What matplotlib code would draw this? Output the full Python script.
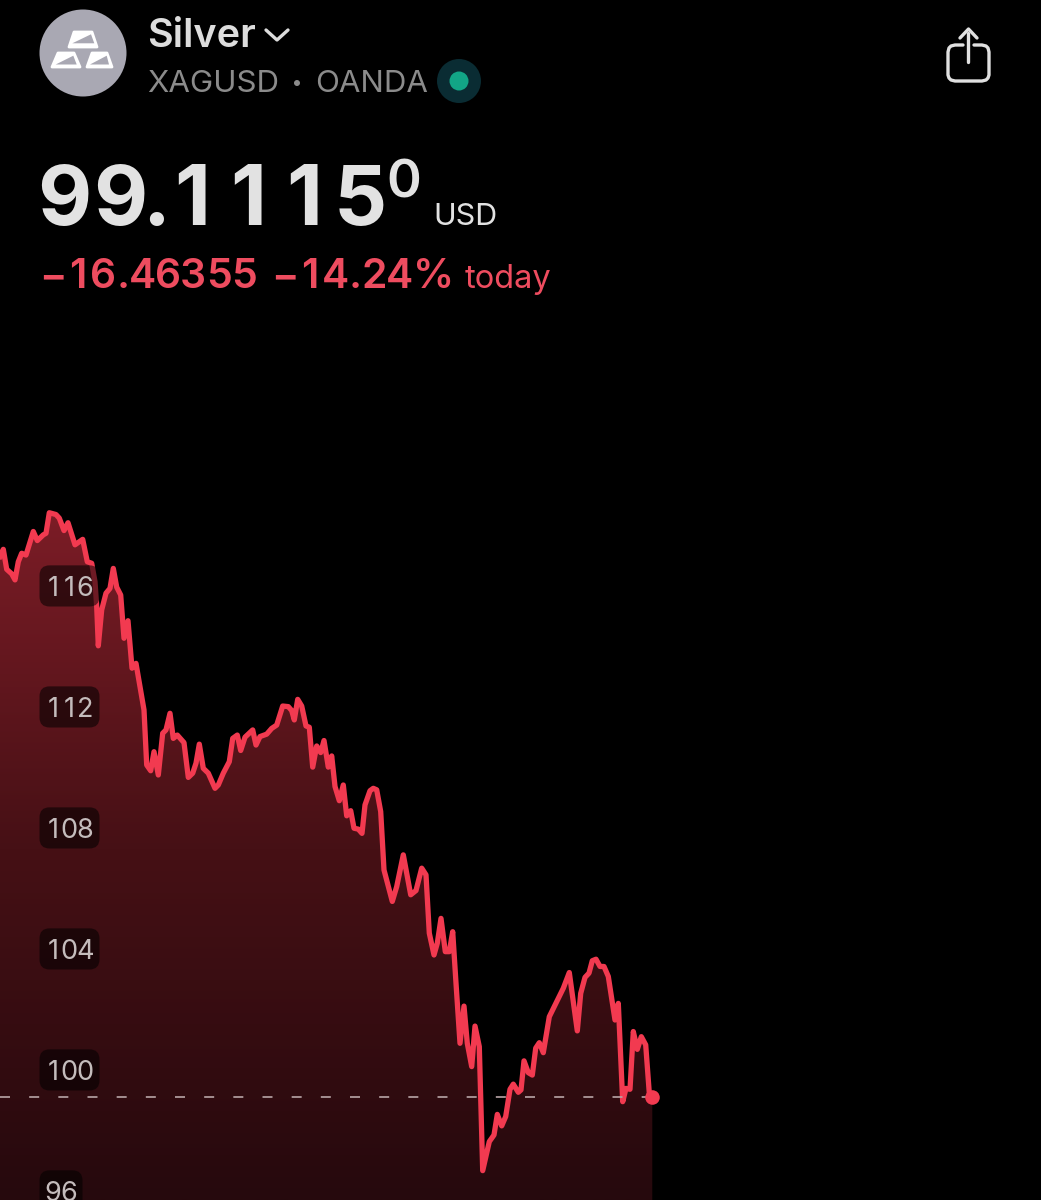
import numpy as np
import matplotlib.pyplot as plt
from matplotlib.colors import LinearSegmentedColormap
from matplotlib.patches import Circle, FancyBboxPatch, Polygon

plt.rcParams['font.family'] = ['Inter', 'DejaVu Sans']
plt.rcParams['lines.scale_dashes'] = False

# minutes since the left edge of the visible window
time_min = [0, 3.3, 6.7, 11.7, 15, 18.3, 21.7, 26, 33.3, 37.3, 43.3, 46, 49.3, 56, 59.3, 64, 68, 75, 82.7, 87.3,
            91.7, 95, 96.7, 98.3, 101.7, 106, 110, 113.3, 116.7, 120.7, 124, 128, 132, 136, 140, 144, 146.7, 150.7,
            154, 158.3, 162.7, 166, 170, 173.3, 177.3, 184, 188.3, 192.7, 196, 199.3, 203.3, 208.3, 215, 218.3,
            223.3, 229.3, 232.7, 237.3, 240.7, 245, 252.7, 256, 260, 266.7, 271.7, 276.7, 282.7, 288.3, 291.7,
            294.3, 297.7, 301.7, 306, 309.3, 312.7, 316.7, 320.7, 324, 328.3, 331.7, 335, 339.3,
            343.3, 346.7, 350.7, 354, 358.3, 362, 365, 370, 373.3, 376.7, 380.7, 384, 392.3, 396.7, 403.3, 410.7,
            416, 421.7, 426, 429.3, 434, 437.3, 441, 445.3, 449.3, 452.7, 456, 460, 464, 467.3, 471.7, 475, 479.3,
            482.7, 489.3, 494, 497.3, 501.7, 505.7, 510, 513.3, 518.3, 521, 524, 528.3, 532.3, 535.7, 539.3, 543.3,
            549.3, 556.7, 563.3, 569.3, 577.3, 580.7, 585, 589, 592.3, 596, 600, 604, 608.3, 615, 618.3, 622.7,
            626, 630, 633.3, 637.3, 641.3, 645.7, 649.3, 652.3]
price = [116.97, 117.21, 116.55, 116.40, 116.20, 116.80, 117.08, 117.02, 117.80, 117.50, 117.69, 117.74, 118.42,
         118.36, 118.24, 117.83, 118.09, 117.36, 117.54, 116.80, 116.75, 116.14, 115.32, 114.02, 115.21, 115.76,
         115.92, 116.58, 115.96, 115.70, 114.27, 114.85, 113.28, 113.44, 112.67, 111.90, 110.08, 109.89, 110.52,
         109.75, 111.13, 111.24, 111.79, 110.96, 111.07, 110.82, 109.67, 109.81, 110.14, 110.77, 109.97, 109.81,
         109.31, 109.42, 109.81, 110.19, 110.96, 111.07, 110.56, 111.00, 111.24, 110.74, 111.02, 111.10, 111.29,
         111.40, 112.03, 112.01, 111.88, 111.57, 112.25, 112.03, 111.37, 111.33, 110.01, 110.71, 110.49, 110.89,
         110.01, 110.38, 109.37, 108.90,
         109.42, 108.40, 108.57, 107.99, 107.96, 107.82, 108.76, 109.23, 109.31, 109.26, 108.54, 106.61, 105.57,
         106.06, 107.11, 105.79, 105.93, 106.67, 106.45, 104.52, 103.80, 104.19, 105.01, 103.91, 103.91, 104.57,
         102.87, 100.88, 102.11, 100.88, 100.11, 101.45, 100.77, 96.67, 97.63, 97.85, 98.53, 98.15, 98.46, 99.36,
         99.53, 99.26, 99.34, 100.30, 99.91, 99.83, 100.72, 100.90, 100.57, 101.76, 102.26, 102.70, 103.22, 101.29,
         102.53, 103.06, 103.20, 103.61, 103.66, 103.42, 103.42, 103.09, 101.65, 102.20, 98.95, 99.39, 99.36,
         101.27, 100.68, 101.10, 100.83, 99.23, 99.11]
tick_values = [116, 112, 108, 104, 100, 96]
last_price = 99.1115

LINE = '#f23a50'
RED_TEXT = '#ee4c5f'
GREY = '#a9a8b3'
ICON = '#e0e0e0'


def spaced(ax, text, x, y, widths, **kw):
    # app uses tabular digits, so every glyph goes centred in its own slot
    for ch in text:
        w = widths.get(ch, widths['d'])
        ax.text(x + w / 2, y, ch, ha='center', va='baseline', **kw)
        x += w


fig = plt.figure(figsize=(10.41, 12), dpi=100, facecolor='black')

# price axes, x in minutes, y in USD
ax = fig.add_axes([0, 0, 1, 1], facecolor='black')
ax.axis('off')

fill = ax.fill_between(time_min, price, 90, color='none')
grad = LinearSegmentedColormap.from_list('fade', ['#26090d', '#461015', '#7e1d27'])
im = ax.imshow(np.linspace(1, 0, 256).reshape(-1, 1), cmap=grad, aspect='auto', vmin=0, vmax=1,
               extent=[0, 1041, 95.70, 118.9], zorder=1)
im.set_clip_path(fill.get_paths()[0], transform=ax.transData)
ax.set_xlim(0, 1041)
ax.set_ylim(95.70, 135.37)

ax.plot(time_min, price, color=LINE, lw=3.8, solid_joinstyle='round', zorder=3)
ax.plot([0, time_min[-1]], [last_price, last_price], color='#b9a5a7', lw=1.2,
        linestyle=(0, (7.2, 13.8)), zorder=4)
ax.plot(time_min[-1], last_price, 'o', color=LINE, ms=10.5, mew=0, zorder=5)

# tick badges
for t in tick_values:
    w = 43 if t < 100 else 60
    ax.add_patch(FancyBboxPatch((39.5, t - 0.68), w, 1.36, boxstyle='round,pad=0,rounding_size=10',
                                mutation_aspect=1 / 30.25, fc='black', ec='none', alpha=0.55, zorder=6))
    spaced(ax, str(t), 45, t - 0.33, {'d': 16}, color='#c4bcbc', fontsize=19.5, zorder=7)

# header drawn in image pixels
hd = fig.add_axes([0, 0, 1, 1], facecolor='none')
hd.set_xlim(0, 1041)
hd.set_ylim(1200, 0)
hd.axis('off')

hd.add_patch(Circle((83, 53), 43.5, fc=GREY, ec='none'))
bars = [[(69, 47), (74, 32), (92, 32), (97, 47)],
        [(52, 67), (58, 53), (74, 53), (80, 67)],
        [(87, 67), (92, 53), (107, 53), (112, 67)]]
bar_shades = [[(72.3, 43.3), (91, 34.3), (94.3, 43.3)],
              [(55.7, 64.5), (73.3, 55.7), (76.7, 64.5)],
              [(90, 64.5), (106.7, 55.7), (109, 64.5)]]
for bar, shade in zip(bars, bar_shades):
    hd.add_patch(Polygon(bar, closed=True, fc='white', ec='white', lw=2, joinstyle='round'))
    hd.add_patch(Polygon(shade, closed=True, fc=GREY, ec='none'))

hd.text(147, 47, 'Silver', color='#dddddd', fontsize=28.5, fontweight='semibold', va='baseline')
hd.plot([266, 277, 288], [30, 40, 30], color='#dddddd', lw=2.4, solid_capstyle='round', solid_joinstyle='round')
hd.text(147, 92, 'XAGUSD', color='#8b8b8b', fontsize=22.5, va='baseline')
hd.add_patch(Circle((297, 83), 3, fc='#8b8b8b', ec='none'))
hd.text(315, 92, 'OANDA', color='#8b8b8b', fontsize=22.5, va='baseline')
hd.add_patch(Circle((459, 81), 22, fc='#0a2c33', ec='none'))
hd.add_patch(Circle((459, 81), 9.5, fc='#12a586', ec='none'))

spaced(hd, '99.1115', 36, 225, {'d': 56, '.': 16}, color='#e2e2e2', fontsize=60, fontweight='bold')
hd.text(404, 197, '0', color='#e2e2e2', fontsize=38, fontweight='semibold', ha='center', va='baseline')
hd.text(433, 225, 'USD', color='#e2e2e2', fontsize=22, va='baseline')
red_widths = {'d': 25.5, '.': 13.5, '\u2212': 25, ' ': 15, '%': 42}
spaced(hd, '\u221216.46355 \u221214.24%', 40, 288, red_widths, color=RED_TEXT, fontsize=29.5, fontweight='semibold')
hd.text(465, 288, 'today', color=RED_TEXT, fontsize=23.5, va='baseline')

# share icon
hd.plot([968, 968], [33, 62], color=ICON, lw=2.4, solid_capstyle='round')
hd.plot([960, 968.5, 977], [38, 29, 38], color=ICON, lw=2.4, solid_capstyle='round', solid_joinstyle='round')
hd.plot([963, 955, 951, 949, 948, 948, 949, 951, 955, 982, 986, 988, 989, 989, 988, 986, 982, 974],
        [45, 45, 46, 48, 52, 75, 78, 80, 81, 81, 80, 78, 75, 52, 48, 46, 45, 45], color=ICON, lw=2.4,
        solid_capstyle='round', solid_joinstyle='round')

fig.savefig('out.png', dpi=100, facecolor='black')
